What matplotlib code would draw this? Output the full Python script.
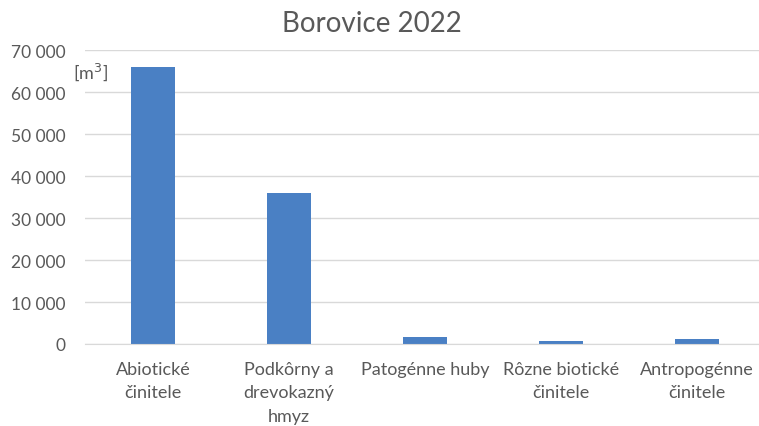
import numpy as np
import matplotlib.pyplot as plt
from matplotlib.ticker import FuncFormatter

categories = ["Abiotické\nčinitele", "Podkôrny a\ndrevokazný\nhmyz", "Patogénne huby",
              "Rôzne biotické\nčinitele", "Antropogénne\nčinitele"]
values = [66000, 36000, 1700, 700, 1200]

plt.rcParams['font.family'] = ['Lato', 'DejaVu Sans']
grey = '#595959'

fig = plt.figure(figsize=(7.59, 4.27), dpi=100)
ax = fig.add_axes([85 / 759, 1 - 345 / 427, 680 / 759, 294 / 427])

x = np.arange(len(categories))
ax.bar(x, values, width=0.32, color='#4a80c4', zorder=3)

ax.set_xlim(-0.5, 4.5)
ax.set_ylim(0, 70000)
ax.set_yticks(np.arange(0, 70001, 10000))
ax.yaxis.set_major_formatter(FuncFormatter(lambda v, p: f"{int(v):,}".replace(",", " ")))
ax.set_xticks(x)
ax.set_xticklabels(categories, fontsize=13, color=grey, linespacing=1.6, va='top')
ax.tick_params(axis='y', length=0, labelsize=12.5, labelcolor=grey, pad=14)
ax.tick_params(axis='x', length=0, pad=12)

ax.grid(axis='y', color='#d9d9d9', linewidth=1, zorder=0)
for s in ['top', 'right', 'left']:
    ax.spines[s].set_visible(False)
ax.spines['bottom'].set_color('#d9d9d9')
ax.spines['bottom'].set_zorder(4)

ax.text(-0.59, 62300, "[m$^3$]", fontsize=13, color=grey, ha='left', va='bottom')
fig.text(372 / 759, 1 - 24 / 427, "Borovice 2022", fontsize=20, color=grey, ha='center', va='center')

fig.savefig("out.png", dpi=100)
